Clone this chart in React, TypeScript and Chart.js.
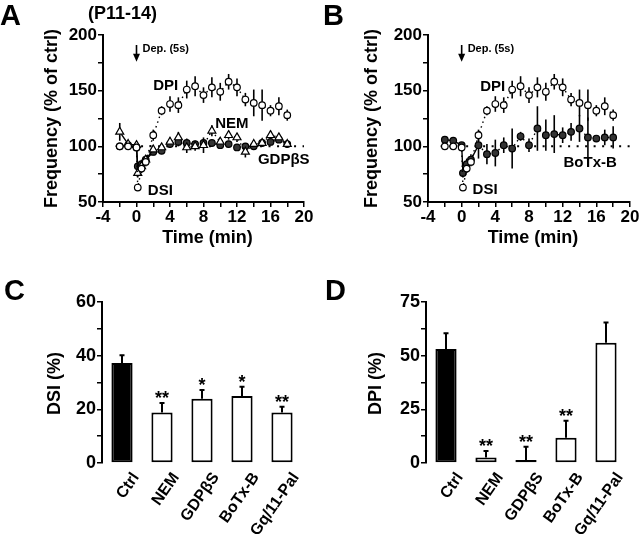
import React, { useEffect, useRef } from 'react';
import { Chart, registerables } from 'chart.js';

Chart.register(...registerables);

const FONT = '"Liberation Sans", Arial, Helvetica, sans-serif';

// ---------- Time-course data (panels A & B) ----------
const TIME_MIN = [-2, -1, 0, 0.15, 0.6, 1.1, 2, 3, 4, 5, 6, 7, 8, 9, 10, 11, 12, 13, 14, 15, 16, 17, 18];
const CTRL_FREQ = [100, 100, 99, 63, 80, 86, 110, 132, 138, 137, 151, 154, 146, 153, 149, 158, 153, 142, 139, 137, 132, 136, 128];
const CTRL_SEM = [2, 2, 2, 3, 4, 4, 5, 4, 7, 7, 8, 9, 7, 9, 8, 7, 8, 6, 12, 14, 5, 8, 5];
const NEM_FREQ = [113, 102, 101, 76, 82, 88, 97, 99, 104, 108, 99, 100, 101, 114, 104, 110, 108, 95, 102, 103, 110, 108, 102];
const NEM_SEM = [8, 3, 3, 4, 4, 4, 4, 3, 4, 5, 5, 4, 7, 5, 4, 4, 4, 5, 3, 3, 4, 3, 3];
const GDP_FREQ = [100, 101, 99, 82, 84, 88, 95, 96, 102, 104, 103, 102, 103, 103, 101, 102, 99, 100, 100, 103, 104, 106, 102];
const GDP_SEM = [2, 2, 2, 4, 4, 4, 3, 3, 3, 4, 4, 3, 3, 3, 3, 3, 3, 3, 2, 3, 3, 3, 3];
const BOTX_FREQ = [106, 105, 101, 76, 84, 88, 101, 93, 94, 101, 98, 109, 101, 116, 110, 111, 110, 113, 116, 108, 107, 108, 108];
const BOTX_SEM = [2, 2, 2, 4, 5, 5, 12, 9, 12, 7, 18, 4, 6, 20, 14, 17, 7, 8, 12, 18, 3, 7, 10];
const FREQ_BASELINE = 100;

// ---------- Summary data (panels C & D) ----------
const GROUPS = ['Ctrl', 'NEM', 'GDPβS', 'BoTx-B', 'Gq/11-Pal'];
const DSI_PCT = [37.3, 18.8, 23.9, 25, 18.8];
const DSI_SEM = [2.9, 3.6, 3.3, 3.4, 2.2];
const DSI_SIG = ['', '**', '*', '*', '**'];
const DPI_PCT = [53.1, 2.6, 1.4, 11.8, 56];
const DPI_SEM = [7.4, 3.0, 6.2, 7.9, 9.5];
const DPI_SIG = ['', '**', '**', '**', ''];

const bold = (size: number) => `bold ${size}px ${FONT}`;

function pts(ys: number[]) {
  return TIME_MIN.map((t, i) => ({ x: t, y: ys[i] }));
}

function series(label: string, ys: number[], errs: number[], style: any) {
  return {
    label,
    data: pts(ys),
    errors: errs,
    showLine: true,
    borderColor: '#000',
    borderWidth: 1.4,
    borderDash: [],
    segment: {
      borderDash: (ctx: any) => (style.solidStart && ctx.p1.parsed.x <= 2 ? [] : [1.5, 3.5]),
    },
    pointStyle: style.pointStyle,
    pointRadius: style.r,
    pointBackgroundColor: style.fill,
    pointBorderColor: '#000',
    pointBorderWidth: 1.2,
  };
}

const errorBarPlugin = {
  id: 'errorBars',
  beforeDatasetsDraw(chart: any) {
    const ctx = chart.ctx;
    const ys = chart.scales.y;
    chart.data.datasets.forEach((ds: any, i: number) => {
      if (!ds.errors) return;
      const meta = chart.getDatasetMeta(i);
      ctx.save();
      ctx.strokeStyle = '#000';
      ctx.lineWidth = 1.6;
      meta.data.forEach((el: any, j: number) => {
        const v = ds.data[j].y;
        const e = ds.errors[j];
        ctx.beginPath();
        ctx.moveTo(el.x, ys.getPixelForValue(v - e));
        ctx.lineTo(el.x, ys.getPixelForValue(v + e));
        ctx.stroke();
      });
      ctx.restore();
    });
  },
};

function drawText(ctx: any, text: string, x: number, y: number, font: string, align = 'left', baseline = 'alphabetic', rot = 0) {
  ctx.save();
  ctx.fillStyle = '#000';
  ctx.font = font;
  ctx.textAlign = align;
  ctx.textBaseline = baseline;
  ctx.translate(x, y);
  if (rot) ctx.rotate(rot);
  ctx.fillText(text, 0, 0);
  ctx.restore();
}

function timeNotes(notes: any) {
  return {
    id: 'timeNotes',
    beforeDatasetsDraw(chart: any) {
      const { ctx, scales } = chart;
      const { x, y } = scales;
      const py = y.getPixelForValue(FREQ_BASELINE);
      ctx.save();
      ctx.strokeStyle = '#000';
      ctx.lineWidth = 2;
      ctx.setLineDash([2, 6.5]);
      ctx.beginPath();
      ctx.moveTo(x.getPixelForValue(-2.5), py);
      ctx.lineTo(x.getPixelForValue(20), py);
      ctx.stroke();
      ctx.restore();
    },
    afterDraw(chart: any) {
      const { ctx, scales, chartArea } = chart;
      const { x, y } = scales;
      // panel letter
      drawText(ctx, notes.letter, notes.letterX, 25, bold(29));
      if (notes.age) drawText(ctx, notes.age, 88, 18.5, bold(18));
      // axis titles
      drawText(ctx, 'Frequency (% of ctrl)', 52, (chartArea.top + chartArea.bottom) / 2, bold(18), 'center', 'middle', -Math.PI / 2);
      drawText(ctx, 'Time (min)', (chartArea.left + chartArea.right) / 2 + 4, 238, bold(18), 'center', 'middle');
      // depolarisation arrow
      const ax = x.getPixelForValue(0);
      const a0 = y.getPixelForValue(191);
      const a1 = y.getPixelForValue(176);
      ctx.save();
      ctx.strokeStyle = '#000';
      ctx.fillStyle = '#000';
      ctx.lineWidth = 1.6;
      ctx.beginPath();
      ctx.moveTo(ax, a0);
      ctx.lineTo(ax, a1 - 6);
      ctx.stroke();
      ctx.beginPath();
      ctx.moveTo(ax - 3.5, a1 - 8);
      ctx.lineTo(ax + 3.5, a1 - 8);
      ctx.lineTo(ax, a1);
      ctx.closePath();
      ctx.fill();
      ctx.restore();
      drawText(ctx, 'Dep. (5s)', ax + 6, y.getPixelForValue(187.5), bold(11), 'left', 'middle');
      // series labels
      notes.labels.forEach((l: any) => {
        drawText(ctx, l.text, x.getPixelForValue(l.x), y.getPixelForValue(l.y), bold(15), 'left', 'middle');
      });
    },
  };
}

function timeConfig(datasets: any[], notes: any, axisWidth: number, padRight: number) {
  const tickFont = { family: FONT, size: 17, weight: 'bold' as const };
  return {
    type: 'scatter' as const,
    data: { datasets },
    options: {
      animation: false,
      responsive: false,
      layout: { padding: { left: 0, right: padRight, top: 35, bottom: 0 } },
      plugins: { legend: { display: false }, tooltip: { enabled: false } },
      scales: {
        x: {
          type: 'linear',
          min: -4,
          max: 20,
          ticks: {
            stepSize: 2,
            autoSkip: false,
            maxRotation: 0,
            padding: 0,
            color: '#000',
            font: tickFont,
            callback: (v: number) => (v % 4 === 0 ? String(v) : ''),
          },
          grid: { drawOnChartArea: false, tickLength: 5, color: '#000', lineWidth: 1.5 },
          border: { color: '#000', width: 2 },
          afterFit: (s: any) => {
            s.height = 58;
          },
        },
        y: {
          min: 50,
          max: 200,
          ticks: {
            stepSize: 25,
            autoSkip: false,
            padding: 1,
            color: '#000',
            font: tickFont,
            callback: (v: number) => (v % 50 === 0 ? String(v) : ''),
          },
          grid: { drawOnChartArea: false, tickLength: 5, color: '#000', lineWidth: 1.5 },
          border: { color: '#000', width: 2 },
          afterFit: (s: any) => {
            s.width = axisWidth;
          },
        },
      },
    },
    plugins: [errorBarPlugin, timeNotes(notes)],
  };
}

function barNotes(letter: string, letterX: number, title: string, titleX: number, errs: number[], sig: string[]) {
  return {
    id: 'barNotes',
    afterDatasetsDraw(chart: any) {
      const { ctx, scales } = chart;
      const ys = scales.y;
      const meta = chart.getDatasetMeta(0);
      const ds = chart.data.datasets[0];
      meta.data.forEach((el: any, j: number) => {
        const v = ds.data[j];
        const top = ys.getPixelForValue(v + errs[j]);
        ctx.save();
        ctx.strokeStyle = '#000';
        ctx.lineWidth = 2;
        ctx.beginPath();
        ctx.moveTo(el.x, ys.getPixelForValue(v));
        ctx.lineTo(el.x, top);
        ctx.moveTo(el.x - 2.5, top);
        ctx.lineTo(el.x + 2.5, top);
        ctx.stroke();
        ctx.restore();
        if (sig[j]) drawText(ctx, sig[j], el.x, top + 1, bold(18), 'center', 'alphabetic');
      });
    },
    afterDraw(chart: any) {
      const { ctx, chartArea } = chart;
      drawText(ctx, letter, letterX, 40, bold(29));
      drawText(ctx, title, titleX, (chartArea.top + chartArea.bottom) / 2 + 1, bold(18), 'center', 'middle', -Math.PI / 2);
    },
  };
}

function barConfig(values: number[], errs: number[], sig: string[], max: number, step: number, labelEvery: number, axisWidth: number, padRight: number, letter: string, letterX: number, title: string, titleX: number) {
  const tickFont = { family: FONT, size: 18, weight: 'bold' as const };
  return {
    type: 'bar' as const,
    data: {
      labels: GROUPS,
      datasets: [
        {
          data: values,
          backgroundColor: ['#000', '#fff', '#fff', '#fff', '#fff'],
          borderColor: '#000',
          borderWidth: 2,
          borderSkipped: false,
          barPercentage: 0.53,
          categoryPercentage: 1,
        },
      ],
    },
    options: {
      animation: false,
      responsive: false,
      layout: { padding: { left: 0, right: padRight, top: 42, bottom: 0 } },
      plugins: { legend: { display: false }, tooltip: { enabled: false } },
      scales: {
        x: {
          grid: { display: false, drawTicks: false },
          border: { display: false },
          ticks: {
            autoSkip: false,
            minRotation: 55,
            maxRotation: 55,
            labelOffset: 14,
            padding: 6,
            color: '#000',
            font: { family: FONT, size: 16, weight: 'bold' as const },
          },
          afterFit: (s: any) => {
            s.height = 71;
          },
        },
        y: {
          min: 0,
          max,
          ticks: {
            stepSize: step,
            autoSkip: false,
            padding: 1,
            color: '#000',
            font: tickFont,
            callback: (v: number) => (Math.abs(v % labelEvery) < 1e-6 ? String(v) : ''),
          },
          grid: { drawOnChartArea: false, tickLength: 5, color: '#000', lineWidth: 1.5 },
          border: { color: '#000', width: 2 },
          afterFit: (s: any) => {
            s.width = axisWidth;
          },
        },
      },
    },
    plugins: [barNotes(letter, letterX, title, titleX, errs, sig)],
  };
}

function ChartPanel({ left, top, width, height, build }: any) {
  const ref = useRef<HTMLCanvasElement | null>(null);
  useEffect(() => {
    const chart = new Chart(ref.current as HTMLCanvasElement, build());
    return () => chart.destroy();
  }, []);
  return (
    <canvas
      ref={ref}
      width={width}
      height={height}
      style={{ position: 'absolute', left, top, width, height, display: 'block' }}
    />
  );
}

const openCircle = { pointStyle: 'circle', r: 3.3, fill: '#fff', solidStart: false };
const openTriangle = { pointStyle: 'triangle', r: 4.6, fill: '#fff', solidStart: true };
const filledCircle = { pointStyle: 'circle', r: 3.3, fill: '#333', solidStart: true };

export default function App() {
  const buildA = () =>
    timeConfig(
      [
        series('DPI', CTRL_FREQ, CTRL_SEM, openCircle),
        series('NEM', NEM_FREQ, NEM_SEM, openTriangle),
        series('GDPβS', GDP_FREQ, GDP_SEM, filledCircle),
      ],
      {
        letter: 'A',
        letterX: 0,
        age: '(P11-14)',
        labels: [
          { text: 'DPI', x: 2.0, y: 154 },
          { text: 'NEM', x: 9.4, y: 120 },
          { text: 'GDPβS', x: 14.5, y: 87.5 },
          { text: 'DSI', x: 1.35, y: 60 },
        ],
      },
      103,
      16
    );
  const buildB = () =>
    timeConfig(
      [series('DPI', CTRL_FREQ, CTRL_SEM, openCircle), series('BoTx-B', BOTX_FREQ, BOTX_SEM, filledCircle)],
      {
        letter: 'B',
        letterX: 3,
        age: '',
        labels: [
          { text: 'DPI', x: 2.2, y: 153 },
          { text: 'BoTx-B', x: 12.1, y: 85.5 },
          { text: 'DSI', x: 1.3, y: 61 },
        ],
      },
      108,
      10
    );
  const buildC = () => barConfig(DSI_PCT, DSI_SEM, DSI_SIG, 60, 10, 20, 102, 18, 'C', 4, 'DSI (%)', 55);
  const buildD = () => barConfig(DPI_PCT, DPI_SEM, DPI_SIG, 75, 12.5, 25, 106, 14, 'D', 5, 'DPI (%)', 56.5);

  return (
    <div style={{ position: 'fixed', left: 0, top: 0, width: 640, height: 534, background: '#fff', overflow: 'hidden' }}>
      <ChartPanel left={0} top={0} width={320} height={260} build={buildA} />
      <ChartPanel left={320} top={0} width={320} height={260} build={buildB} />
      <ChartPanel left={0} top={260} width={320} height={274} build={buildC} />
      <ChartPanel left={320} top={260} width={320} height={274} build={buildD} />
    </div>
  );
}
